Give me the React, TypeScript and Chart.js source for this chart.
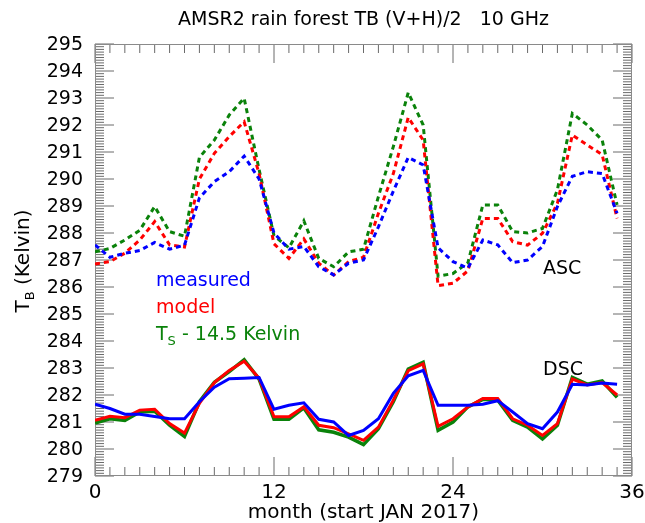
import React, { useEffect, useRef } from "react";
import { Chart, registerables } from "chart.js";

Chart.register(...registerables);

const months = [0, 1, 2, 3, 4, 5, 6, 7, 8, 9, 10, 11, 12, 13, 14, 15, 16, 17, 18, 19, 20, 21, 22, 23, 24, 25, 26, 27, 28, 29, 30, 31, 32, 33, 34, 35];

const ascMeasured = [287.56, 287.1, 287.25, 287.35, 287.65, 287.4, 287.55, 289.3, 289.9, 290.27, 290.85, 290.0, 288.0, 287.4, 287.5, 286.75, 286.45, 286.88, 287.0, 288.23, 289.55, 290.8, 290.52, 287.45, 286.94, 286.7, 287.74, 287.56, 286.9, 287.0, 287.5, 288.98, 290.1, 290.27, 290.2, 288.73];
const ascModel = [286.85, 286.94, 287.25, 287.74, 288.42, 287.56, 287.48, 290.0, 290.95, 291.57, 292.12, 290.2, 287.6, 287.06, 287.78, 286.88, 286.44, 286.94, 287.1, 288.73, 290.2, 292.28, 291.44, 286.05, 286.14, 286.6, 288.54, 288.54, 287.68, 287.55, 287.99, 289.1, 291.63, 291.26, 290.9, 288.54];
const ascTs = [287.3, 287.43, 287.74, 288.1, 288.98, 288.05, 287.88, 290.8, 291.44, 292.37, 292.99, 290.35, 287.9, 287.45, 288.45, 287.06, 286.75, 287.3, 287.4, 289.35, 291.2, 293.2, 292.0, 286.4, 286.5, 286.9, 289.04, 289.04, 288.05, 288.0, 288.17, 289.6, 292.43, 292.0, 291.44, 289.04];

const dscMeasured = [281.66, 281.5, 281.29, 281.29, 281.2, 281.12, 281.12, 281.75, 282.29, 282.6, 282.62, 282.65, 281.47, 281.62, 281.71, 281.1, 281.0, 280.5, 280.69, 281.12, 282.06, 282.71, 282.91, 281.62, 281.62, 281.62, 281.66, 281.79, 281.37, 280.94, 280.75, 281.37, 282.4, 282.37, 282.44, 282.4];
const dscModel = [281.06, 281.21, 281.16, 281.44, 281.47, 280.94, 280.59, 281.69, 282.46, 282.91, 283.25, 282.62, 281.19, 281.19, 281.56, 280.88, 280.79, 280.56, 280.32, 280.81, 281.81, 282.9, 283.15, 280.84, 281.12, 281.56, 281.87, 281.87, 281.12, 280.88, 280.5, 280.94, 282.59, 282.37, 282.46, 282.0];
const dscTs = [280.96, 281.12, 281.06, 281.37, 281.4, 280.88, 280.46, 281.75, 282.47, 282.87, 283.31, 282.59, 281.1, 281.1, 281.52, 280.71, 280.62, 280.44, 280.16, 280.75, 281.75, 282.96, 283.21, 280.69, 281.0, 281.56, 281.84, 281.81, 281.06, 280.81, 280.37, 280.88, 282.65, 282.4, 282.52, 281.91];

const xTickLabels = [0, 12, 24, 36];
const yTickLabels = [279, 280, 281, 282, 283, 284, 285, 286, 287, 288, 289, 290, 291, 292, 293, 294, 295];

const BLUE = "#0000ff";
const RED = "#ff0000";
const GREEN = "#0a820a";
const FONT = "'DejaVu Sans', sans-serif";

function pts(vals: number[]) {
  return vals.map((v, i) => ({ x: months[i], y: v }));
}

const decorPlugin = {
  id: "decor",
  beforeDatasetsDraw(chart: any) {
    const ctx = chart.ctx;
    const { left, right, top, bottom } = chart.chartArea;
    const xs = chart.scales.x;
    const ys = chart.scales.y;
    ctx.save();
    ctx.strokeStyle = "#6a6a6a";
    ctx.lineWidth = 1;
    for (let m = 0; m <= 36; m++) {
      const x = xs.getPixelForValue(m);
      const len = m % 12 === 0 ? 19 : 9;
      ctx.beginPath();
      ctx.moveTo(x, bottom);
      ctx.lineTo(x, bottom - len);
      ctx.moveTo(x, top);
      ctx.lineTo(x, top + len);
      ctx.stroke();
    }
    for (let i = 0; i <= 160; i++) {
      const v = 279 + i / 10;
      const y = ys.getPixelForValue(v);
      const len = i % 10 === 0 ? 19 : 9;
      ctx.beginPath();
      ctx.moveTo(left, y);
      ctx.lineTo(left + len, y);
      ctx.moveTo(right, y);
      ctx.lineTo(right - len, y);
      ctx.stroke();
    }
    ctx.strokeStyle = "#8a8a8a";
    ctx.strokeRect(left + 0.5, top + 0.5, right - left - 1, bottom - top - 1);
    ctx.restore();
  },
  afterDraw(chart: any) {
    const ctx = chart.ctx;
    const { left, right, bottom } = chart.chartArea;
    const xs = chart.scales.x;
    const ys = chart.scales.y;
    const cx = (left + right) / 2;
    ctx.save();
    ctx.fillStyle = "#000";
    ctx.font = `19px ${FONT}`;
    ctx.textAlign = "right";
    ctx.textBaseline = "middle";
    for (const v of yTickLabels) {
      ctx.fillText(String(v), left - 12, ys.getPixelForValue(v) + 1);
    }
    ctx.font = `20px ${FONT}`;
    ctx.textAlign = "center";
    ctx.textBaseline = "alphabetic";
    for (const m of xTickLabels) {
      ctx.fillText(String(m), xs.getPixelForValue(m), bottom + 22);
    }
    ctx.font = `19px ${FONT}`;
    ctx.fillText("AMSR2 rain forest TB (V+H)/2   10 GHz", cx, 25);
    ctx.font = `20px ${FONT}`;
    ctx.fillText("month (start JAN 2017)", cx, 518);

    ctx.save();
    ctx.translate(29, 261);
    ctx.rotate(-Math.PI / 2);
    ctx.textAlign = "left";
    const main = `20px ${FONT}`;
    const sub = `13px ${FONT}`;
    ctx.font = main;
    const wT = ctx.measureText("T").width;
    ctx.font = sub;
    const wB = ctx.measureText("B").width;
    ctx.font = main;
    const wRest = ctx.measureText(" (Kelvin)").width;
    const total = wT + wB + wRest;
    const x0 = -total / 2;
    ctx.fillText("T", x0, 0);
    ctx.font = sub;
    ctx.fillText("B", x0 + wT, 5);
    ctx.font = main;
    ctx.fillText(" (Kelvin)", x0 + wT + wB, 0);
    ctx.restore();

    ctx.textAlign = "left";
    ctx.font = `19px ${FONT}`;
    ctx.fillStyle = BLUE;
    ctx.fillText("measured", 156, 286);
    ctx.fillStyle = RED;
    ctx.fillText("model", 156, 313);
    ctx.fillStyle = GREEN;
    ctx.fillText("T", 156, 340);
    const wT2 = ctx.measureText("T").width;
    ctx.font = `13px ${FONT}`;
    ctx.fillText("S", 156 + wT2, 345);
    const wS = ctx.measureText("S").width;
    ctx.font = `19px ${FONT}`;
    ctx.fillText(" - 14.5 Kelvin", 156 + wT2 + wS, 340);

    ctx.fillStyle = "#000";
    ctx.fillText("ASC", 543, 274);
    ctx.fillText("DSC", 543, 375);
    ctx.restore();
  },
};

export default function App() {
  const ref = useRef<HTMLCanvasElement | null>(null);
  useEffect(() => {
    if (!ref.current) return;
    const dotted = (label: string, vals: number[], color: string) => ({
      label,
      data: pts(vals),
      borderColor: color,
      backgroundColor: color,
      borderWidth: 3,
      borderDash: [5, 4],
      borderCapStyle: "butt" as const,
      pointRadius: 0,
      tension: 0,
      fill: false,
    });
    const solid = (label: string, vals: number[], color: string, w: number) => ({
      label,
      data: pts(vals),
      borderColor: color,
      backgroundColor: color,
      borderWidth: w,
      pointRadius: 0,
      tension: 0,
      fill: false,
    });
    const chart = new Chart(ref.current, {
      type: "line",
      data: {
        datasets: [
          dotted("ASC measured", ascMeasured, BLUE),
          dotted("ASC model", ascModel, RED),
          dotted("ASC Ts", ascTs, GREEN),
          solid("DSC measured", dscMeasured, BLUE, 3),
          solid("DSC model", dscModel, RED, 3),
          solid("DSC Ts", dscTs, GREEN, 3.5),
        ],
      },
      options: {
        animation: false,
        responsive: false,
        layout: { padding: { left: 95, right: 13, top: 44, bottom: 47 } },
        plugins: { legend: { display: false }, tooltip: { enabled: false }, title: { display: false } },
        scales: {
          x: { type: "linear", min: 0, max: 36, display: false },
          y: { type: "linear", min: 279, max: 295, display: false },
        },
      },
      plugins: [decorPlugin],
    });
    return () => chart.destroy();
  }, []);
  return (
    <div style={{ position: "absolute", left: 0, top: 0, width: 645, height: 523, background: "#fff" }}>
      <canvas ref={ref} width={645} height={523} />
    </div>
  );
}
